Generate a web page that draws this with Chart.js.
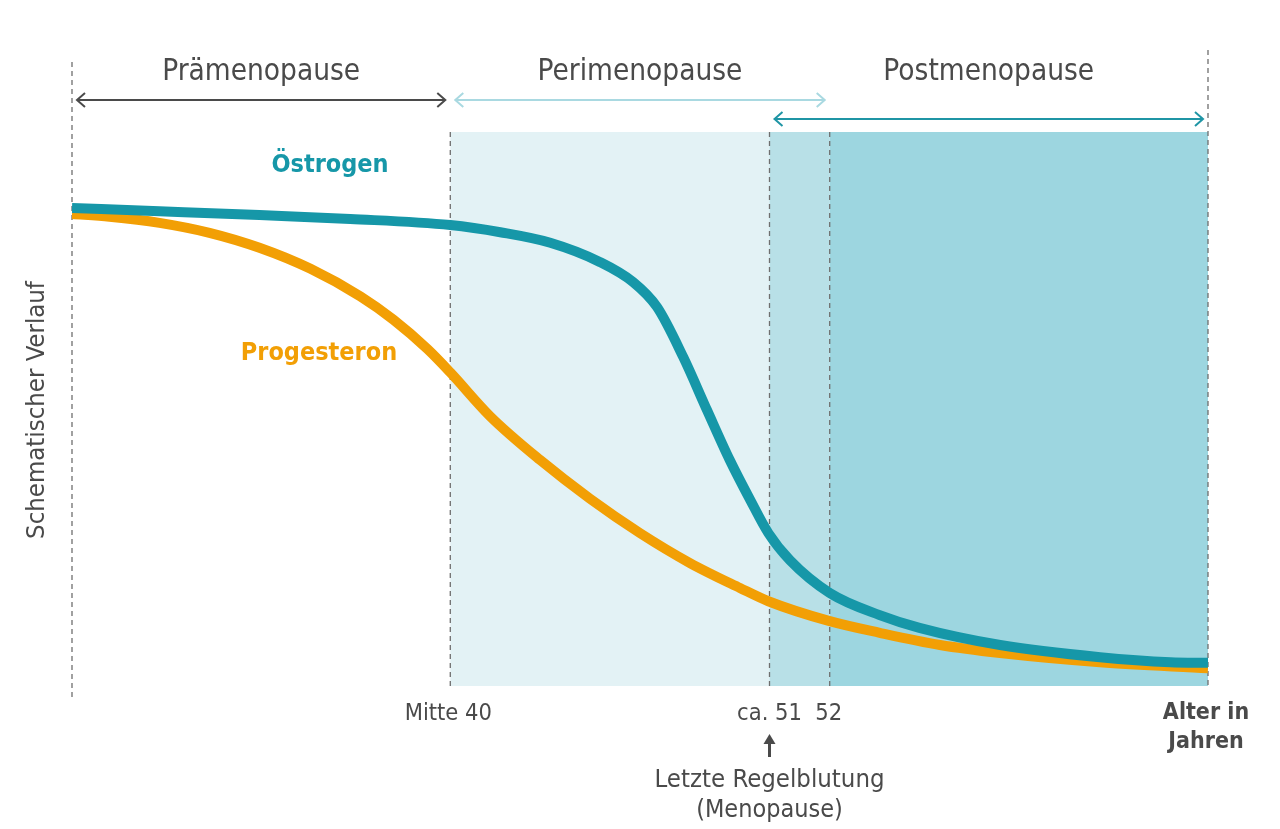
<!DOCTYPE html>
<html lang="de">
<head>
<meta charset="utf-8">
<title>Hormonverlauf Wechseljahre</title>
<script src="https://cdn.jsdelivr.net/npm/chart.js@4"></script>
<style>
  html, body { margin: 0; padding: 0; background: #ffffff; }
  #wrap { width: 1280px; height: 829px; position: relative; }
</style>
</head>
<body>
<div id="wrap"><canvas id="chart" width="1280" height="829"></canvas></div>
<script>
// ================= DATA =================
// x: schematic time axis 0..100, y: schematic hormone level 0..100
const oestrogenX = [0, 7.7, 16.5, 24.5, 33.3, 37.7, 42.1, 46.5, 49.4, 51.5, 53.8, 55.9, 57.9, 59.7, 61.3, 63.2, 66.7, 71.1, 74.6, 81.7, 90.5, 96.7, 100];
const oestrogenY = [86.3, 85.7, 85.0, 84.3, 83.2, 81.9, 80.0, 76.5, 72.9, 68.4, 59.4, 49.8, 40.8, 33.6, 27.6, 22.7, 16.8, 12.8, 10.5, 7.4, 5.2, 4.3, 4.2];

const progesteronX = [0, 3.3, 7.7, 12.1, 16.5, 21.0, 25.4, 28.3, 31.3, 33.3, 36.8, 41.2, 45.6, 50.0, 54.4, 58.8, 61.3, 66.7, 71.1, 76.4, 81.7, 90.5, 100];
const progesteronY = [85.2, 84.7, 83.6, 81.8, 79.1, 75.3, 70.3, 66.1, 60.8, 56.6, 48.7, 40.8, 33.8, 27.6, 22.2, 17.7, 15.3, 11.7, 9.6, 7.4, 5.96, 4.3, 3.2];

// phase boundaries on the x axis
const boundaries = [0, 33.3, 61.4, 66.7, 100];
const tickLabels = ["", "Mitte 40", "ca. 51", "52", ""];

const phaseNames = ["Prämenopause", "Perimenopause", "Postmenopause"];
const phaseFrom = [0, 33.3, 61.4];
const phaseTo = [33.3, 66.7, 100];

const FONT = "'DejaVu Sans Condensed', 'Liberation Sans Narrow', Roboto, sans-serif";
const GREY = "#4a4a4a";
const TEAL = "#1697a8";
const ORANGE = "#f29f05";

function toPoints(xs, ys) {
  return xs.map((x, i) => ({ x: x, y: ys[i] }));
}

// ================= HELPERS =================
function dashedLine(ctx, x, y1, y2) {
  ctx.save();
  ctx.strokeStyle = "#6f6f6f";
  ctx.lineWidth = 1.3;
  ctx.setLineDash([5, 4]);
  ctx.beginPath();
  ctx.moveTo(x, y1);
  ctx.lineTo(x, y2);
  ctx.stroke();
  ctx.restore();
}

function doubleArrow(ctx, x1, x2, y, color) {
  ctx.save();
  ctx.strokeStyle = color;
  ctx.lineWidth = 2;
  ctx.beginPath();
  ctx.moveTo(x1, y);
  ctx.lineTo(x2, y);
  ctx.moveTo(x1 + 8, y - 7);
  ctx.lineTo(x1, y);
  ctx.lineTo(x1 + 8, y + 7);
  ctx.moveTo(x2 - 8, y - 7);
  ctx.lineTo(x2, y);
  ctx.lineTo(x2 - 8, y + 7);
  ctx.stroke();
  ctx.restore();
}

function text(ctx, str, x, y, size, color, weight, align) {
  ctx.save();
  ctx.font = (weight || "normal") + " " + size + "px " + FONT;
  ctx.fillStyle = color;
  ctx.textAlign = align || "center";
  ctx.textBaseline = "middle";
  ctx.fillText(str, x, y);
  ctx.restore();
}

// ================= PLUGINS =================
const backgroundPlugin = {
  id: "phaseBackground",
  beforeDatasetsDraw(chart) {
    const { ctx, chartArea, scales } = chart;
    const px = v => scales.x.getPixelForValue(v);
    const top = chartArea.top, bottom = chartArea.bottom;

    ctx.save();
    ctx.fillStyle = "#e3f2f5";
    ctx.fillRect(px(boundaries[1]), top, px(boundaries[2]) - px(boundaries[1]), bottom - top);
    ctx.fillStyle = "#b8e0e7";
    ctx.fillRect(px(boundaries[2]), top, px(boundaries[3]) - px(boundaries[2]), bottom - top);
    ctx.fillStyle = "#9dd6e0";
    ctx.fillRect(px(boundaries[3]), top, px(boundaries[4]) - px(boundaries[3]), bottom - top);
    ctx.restore();

    dashedLine(ctx, px(boundaries[0]), 62, bottom + 11);
    dashedLine(ctx, px(boundaries[1]), top, bottom);
    dashedLine(ctx, px(boundaries[2]), top, bottom);
    dashedLine(ctx, px(boundaries[3]), top, bottom);
    dashedLine(ctx, px(boundaries[4]), 50, bottom);
  },
  afterDatasetsDraw(chart) {
    const { ctx, chartArea, scales } = chart;
    const px = v => scales.x.getPixelForValue(v);
    const bottom = chartArea.bottom;

    // phase headings and arrows
    const arrowY = [100, 100, 119];
    const arrowColor = [GREY, "#a9d9e1", "#1f95a5"];
    phaseNames.forEach((name, i) => {
      const a = px(phaseFrom[i]), b = px(phaseTo[i]);
      text(ctx, name, (a + b) / 2, 72, 29.5, GREY);
      doubleArrow(ctx, a + 5, b - 5, arrowY[i], arrowColor[i]);
    });

    // series labels
    text(ctx, "Östrogen", 330, 165, 25, TEAL, "bold");
    text(ctx, "Progesteron", 319, 353, 25, ORANGE, "bold");

    // y axis title
    ctx.save();
    ctx.translate(37, 410);
    ctx.rotate(-Math.PI / 2);
    text(ctx, "Schematischer Verlauf", 0, 0, 25.5, GREY);
    ctx.restore();

    // x tick labels
    text(ctx, tickLabels[1], px(boundaries[1]) - 2, 714, 23.5, GREY);
    text(ctx, tickLabels[2], px(boundaries[2]), 714, 23.5, GREY);
    text(ctx, tickLabels[3], px(boundaries[3]) - 1, 714, 23.5, GREY);
    text(ctx, "Alter in", px(boundaries[4]) - 2, 713, 23, GREY, "bold");
    text(ctx, "Jahren", px(boundaries[4]) - 2, 742, 23, GREY, "bold");

    // menopause marker
    const mx = px(boundaries[2]);
    ctx.save();
    ctx.strokeStyle = GREY;
    ctx.fillStyle = GREY;
    ctx.lineWidth = 3;
    ctx.beginPath();
    ctx.moveTo(mx, bottom + 71);
    ctx.lineTo(mx, bottom + 56);
    ctx.stroke();
    ctx.beginPath();
    ctx.moveTo(mx - 6, bottom + 58);
    ctx.lineTo(mx, bottom + 48);
    ctx.lineTo(mx + 6, bottom + 58);
    ctx.closePath();
    ctx.fill();
    ctx.restore();
    text(ctx, "Letzte Regelblutung", mx, 780, 25.5, GREY);
    text(ctx, "(Menopause)", mx, 810, 25, GREY);
  }
};

// ================= CHART =================
const ctx = document.getElementById("chart").getContext("2d");

const hormoneChart = new Chart(ctx, {
  type: "line",
  data: {
    datasets: [
      {
        label: "Östrogen",
        data: toPoints(oestrogenX, oestrogenY),
        borderColor: TEAL,
        borderWidth: 10,
        pointRadius: 0,
        cubicInterpolationMode: "monotone",
        fill: false,
        order: 1
      },
      {
        label: "Progesteron",
        data: toPoints(progesteronX, progesteronY),
        borderColor: ORANGE,
        borderWidth: 10,
        pointRadius: 0,
        cubicInterpolationMode: "monotone",
        fill: false,
        order: 2
      }
    ]
  },
  options: {
    responsive: false,
    animation: false,
    layout: {
      padding: { left: 72, right: 72, top: 132, bottom: 143 }
    },
    plugins: {
      legend: { display: false },
      tooltip: { enabled: false }
    },
    scales: {
      x: { type: "linear", min: 0, max: 100, display: false },
      y: { type: "linear", min: 0, max: 100, display: false }
    }
  },
  plugins: [backgroundPlugin]
});
</script>
</body>
</html>
